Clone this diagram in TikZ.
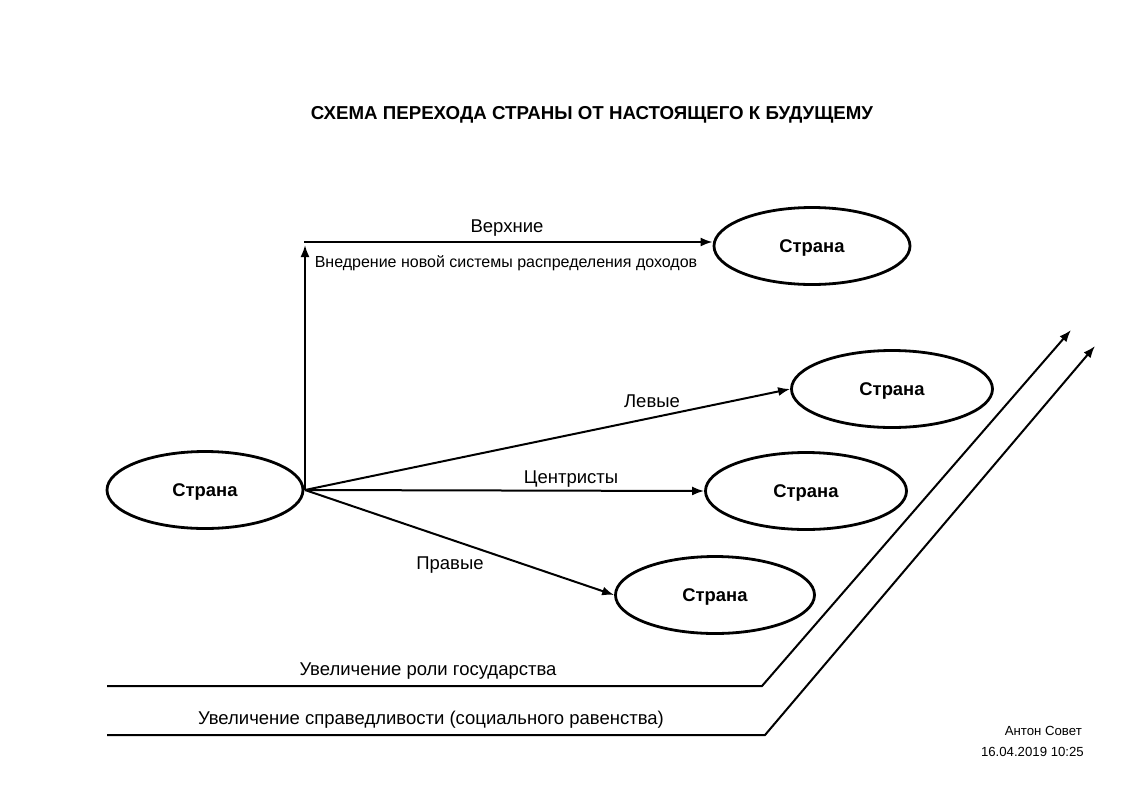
\documentclass[tikz,border=0pt]{standalone}
\usepackage{fontspec}
\setmainfont{Liberation Sans}
\usetikzlibrary{shapes.geometric,arrows.meta}
\begin{document}
\begin{tikzpicture}[x=1pt,y=-1pt,
  country/.style={draw,ellipse,line width=2.8pt,minimum width=196pt,minimum height=77pt,inner sep=0pt,text height=13.2pt,text depth=0pt,font=\fontsize{18.4}{22}\selectfont\bfseries},
  conn/.style={line width=2pt,-{Latex[length=12pt,width=9pt]}},
  lbl/.style={font=\fontsize{18.5}{22}\selectfont,inner sep=0pt,text height=13.2pt,text depth=0pt},
  small/.style={font=\fontsize{16}{19}\selectfont,inner sep=0pt,text height=11.5pt,text depth=0pt},
  foot/.style={font=\fontsize{13.2}{16}\selectfont,inner sep=0pt,anchor=east,text height=9.5pt,text depth=0pt}]
\useasboundingbox (0,0) rectangle (1133,793);
\node[font=\fontsize{18.7}{22}\selectfont\bfseries,inner sep=0pt,text height=13.4pt,text depth=0pt] (title) at (592,113) {СХЕМА ПЕРЕХОДА СТРАНЫ ОТ НАСТОЯЩЕГО К БУДУЩЕМУ};
\node[country] (src) at (205,490) {Страна};
\node[country] (top) at (812,246) {Страна};
\node[country,minimum width=201pt] (lev) at (892,389) {Страна};
\node[country,minimum width=201pt] (cen) at (806,491) {Страна};
\node[country,minimum width=199pt] (pra) at (715,595) {Страна};
\coordinate (j) at (305,490);
\coordinate (vtop) at (305,245);
\coordinate (hstart) at (304,242);
\draw[conn] (j) -- (vtop);
\draw[conn] (hstart) -- (hstart -| top.west);
\draw[conn] (j) -- (lev.west);
\draw[conn] (j) -- (cen.west);
\draw[conn] (j) -- (pra.west);
\node[lbl] (lv) at (507,226) {Верхние};
\node[small] (lvn) at (506,262) {Внедрение новой системы распределения доходов};
\node[lbl] (ll) at (652,401) {Левые};
\node[lbl] (lc) at (571,477) {Центристы};
\node[lbl] (lp) at (450,563) {Правые};
\coordinate (a1) at (107,686);
\coordinate (b1) at (762,686);
\coordinate (c1) at (1071,330);
\coordinate (a2) at (107,735);
\coordinate (b2) at (765,735);
\coordinate (c2) at (1095,346);
\draw[conn] (a1) -- (b1) -- (c1);
\draw[conn] (a2) -- (b2) -- (c2);
\node[lbl] (l1) at (428,669) {Увеличение роли государства};
\node[lbl] (l2) at (431,718) {Увеличение справедливости (социального равенства)};
\node[foot] (auth) at (1082,731) {Антон Совет};
\node[foot] (date) at (1084,752) {16.04.2019 10:25};
\end{tikzpicture}
\end{document}
